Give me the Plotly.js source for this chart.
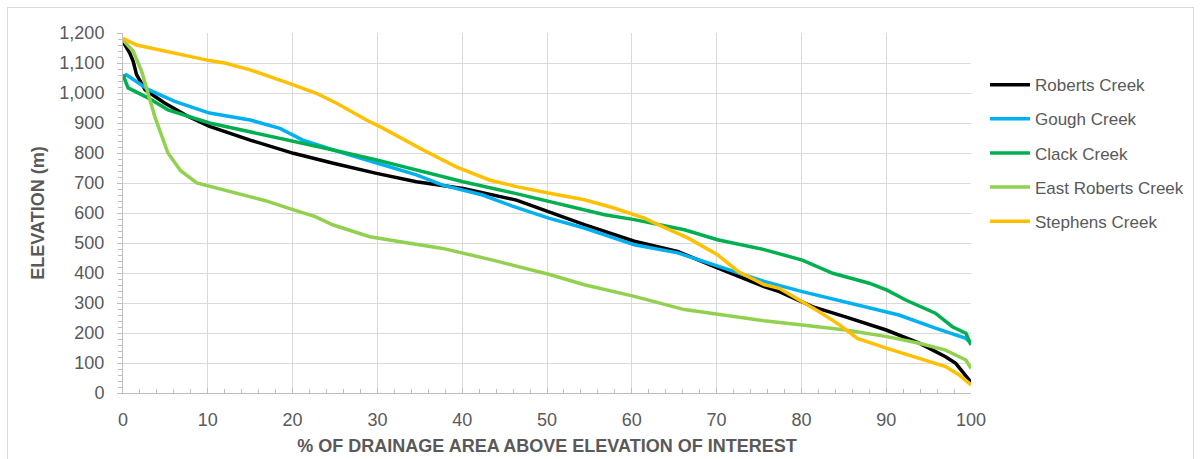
<!DOCTYPE html>
<html>
<head>
<meta charset="utf-8">
<script src="https://cdn.plot.ly/plotly-3.0.1.min.js"></script>
<style>
  html, body { margin: 0; padding: 0; background: #fff; }
  #wrap { position: relative; width: 1200px; height: 459px; overflow: hidden; }
  #chart { position: absolute; left: 0; top: 0; width: 1200px; height: 459px; }
  #frame { position: absolute; left: 7px; top: 7px; width: 1185px; height: 470px;
           border: 1px solid #d9d9d9; pointer-events: none; }
</style>
</head>
<body>
<div id="wrap">
  <div id="chart"></div>
  <div id="frame"></div>
</div>
<script>
// ---- data ----
const seriesNames = ["Roberts Creek", "Gough Creek", "Clack Creek", "East Roberts Creek", "Stephens Creek"];

const robertsX = [0, 0.8, 1.2, 1.6, 2.6, 4.9, 7.7, 10.2, 15, 20.1, 24.8, 29.9, 34.6, 40.1, 46.4, 50.3, 54.4, 60.3, 65.4, 70.1, 75.6, 77.4, 81.3, 85.2, 90, 93.9, 97, 98.2, 99.8, 100];
const robertsY = [1172, 1133, 1106, 1061, 1011, 967, 922, 889, 843, 799, 766, 732, 704, 682, 643, 604, 561, 506, 472, 417, 355, 338, 288, 254, 210, 166, 121, 99, 43, 30];

const goughX = [0, 0.4, 3, 6.1, 10.2, 15, 18.5, 21.2, 24.8, 29.9, 34.6, 37.7, 42.4, 46, 50.3, 54.4, 60.3, 65.4, 70.1, 75.6, 80.1, 85.2, 88.4, 91.5, 95.8, 99.4, 100];
const goughY = [1055, 1061, 1011, 972, 933, 910, 882, 843, 810, 766, 727, 693, 660, 622, 582, 550, 494, 467, 422, 372, 338, 304, 282, 260, 216, 182, 166];

const clackX = [0, 0.6, 3, 5.3, 10.2, 15, 20.1, 24.8, 29.9, 34.6, 40.1, 46, 50.3, 56.8, 60.3, 66.2, 70.1, 75.6, 80.1, 83.7, 88, 90.1, 92.3, 95.8, 97.8, 99.4, 100];
const clackY = [1060, 1017, 983, 944, 900, 871, 838, 810, 777, 743, 704, 667, 638, 594, 578, 544, 511, 478, 443, 399, 366, 343, 310, 266, 221, 199, 160];

const eastRobertsX = [0, 1.2, 2.2, 3, 3.8, 5.3, 6.8, 8.7, 10.2, 13.9, 16.8, 20.3, 22.6, 24.8, 29.1, 33.8, 37.7, 43.6, 50.3, 54.4, 60.3, 66.2, 70.1, 75.6, 80.1, 85.2, 90.1, 93.9, 97, 99.4, 100];
const eastRobertsY = [1177, 1139, 1072, 994, 917, 800, 741, 700, 689, 663, 641, 609, 589, 560, 521, 499, 482, 443, 395, 361, 322, 278, 263, 241, 227, 210, 188, 166, 143, 110, 82];

const stephensX = [0, 1.6, 10.2, 12, 15, 17.9, 20.1, 22.8, 25.2, 28.7, 30.7, 35.4, 39.3, 43.2, 46.4, 50.3, 54.4, 57.6, 61.5, 63.1, 66.6, 70.1, 72.5, 75.6, 77.4, 80.1, 82.1, 84.5, 86.6, 90.1, 93.9, 97, 98.6, 100];
const stephensY = [1182, 1160, 1108, 1100, 1077, 1050, 1027, 999, 966, 910, 882, 810, 754, 710, 688, 666, 644, 619, 583, 561, 517, 461, 406, 361, 349, 304, 271, 227, 182, 149, 116, 88, 60, 27];

const seriesColors = ["#000000", "#00B0F0", "#00B050", "#92D050", "#FFC000"];

const xTitle = "% OF DRAINAGE AREA ABOVE ELEVATION OF INTEREST";
const yTitle = "ELEVATION (m)";

// ---- build traces ----
const xs = [robertsX, goughX, clackX, eastRobertsX, stephensX];
const ys = [robertsY, goughY, clackY, eastRobertsY, stephensY];
const FONT = "'Liberation Sans', Arial, sans-serif";
const TXT = "#595959";

const traces = seriesNames.map((n, i) => ({
  type: "scatter",
  mode: "lines",
  name: n,
  x: xs[i],
  y: ys[i],
  legendgroup: "g" + i,
  line: { color: seriesColors[i], width: 3.5, shape: "linear" },
  hoverinfo: "x+y+name"
}));

const layout = {
  width: 1200,
  height: 459,
  margin: { l: 123, r: 228, t: 33, b: 66, pad: 0 },
  paper_bgcolor: "#ffffff",
  plot_bgcolor: "#ffffff",
  font: { family: FONT, size: 18, color: TXT },
  showlegend: true,
  legend: {
    x: 1.0153, xanchor: "left",
    y: 0.905, yanchor: "top",
    font: { family: FONT, size: 17, color: TXT },
    itemwidth: 40,
    tracegroupgap: 9,
    bgcolor: "rgba(0,0,0,0)",
    borderwidth: 0
  },
  xaxis: {
    range: [0, 100],
    dtick: 10,
    tick0: 0,
    showgrid: true,
    gridcolor: "#d9d9d9",
    gridwidth: 1,
    zeroline: false,
    showline: true,
    linecolor: "#bfbfbf",
    linewidth: 1,
    ticks: "inside",
    ticklen: 5,
    tickcolor: "#bfbfbf",
    minor: { dtick: 2, ticks: "inside", ticklen: 4, tickcolor: "#bfbfbf", showgrid: false },
    tickfont: { family: FONT, size: 18, color: TXT },
    ticklabelstandoff: 10,
    title: { text: xTitle, font: { family: FONT, size: 18, color: TXT, weight: "bold" }, standoff: 10 }
  },
  yaxis: {
    range: [0, 1200],
    dtick: 100,
    tick0: 0,
    tickformat: ",d",
    showgrid: true,
    gridcolor: "#d9d9d9",
    gridwidth: 1,
    zeroline: false,
    showline: true,
    linecolor: "#bfbfbf",
    linewidth: 1,
    ticks: "outside",
    ticklen: 5,
    tickcolor: "#bfbfbf",
    minor: { dtick: 20, ticks: "outside", ticklen: 4, tickcolor: "#bfbfbf", showgrid: false },
    tickfont: { family: FONT, size: 18, color: TXT },
    ticklabelstandoff: 9,
    title: { text: yTitle, font: { family: FONT, size: 18, color: TXT, weight: "bold" }, standoff: 10 }
  }
};

Plotly.newPlot("chart", traces, layout, { displayModeBar: false, staticPlot: true });
</script>
</body>
</html>
